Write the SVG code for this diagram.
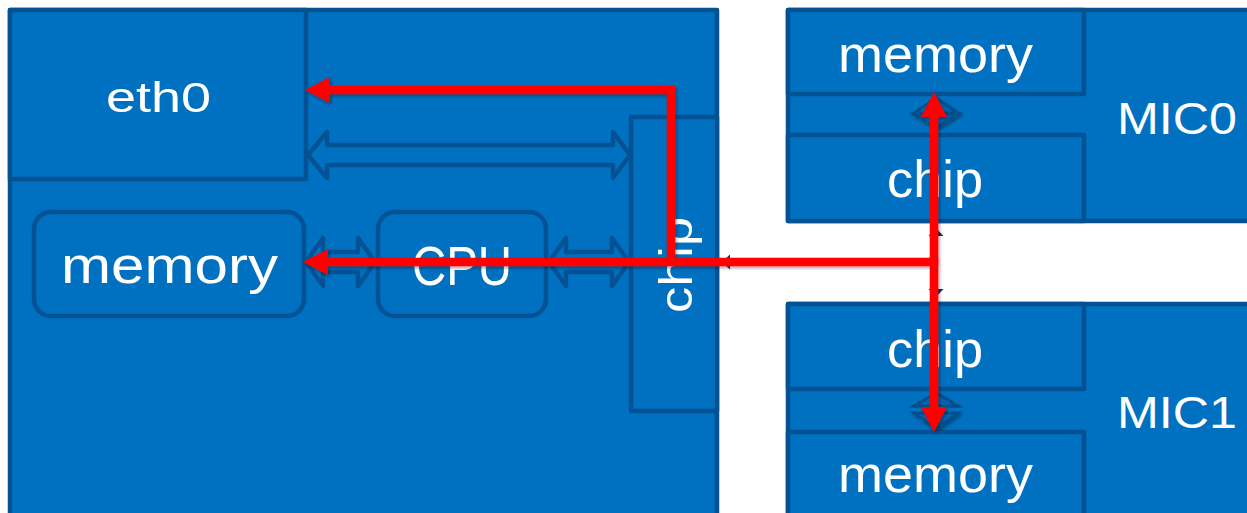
<svg xmlns="http://www.w3.org/2000/svg" width="1247" height="513" viewBox="0 0 1247 513">
<style>
.box{fill:#0070C0;stroke:#045294;stroke-width:4.5;stroke-linejoin:round}
.hollow{fill:#0070C0;stroke:#045294;stroke-width:4.5;stroke-linejoin:round}
.lbl{font-family:"Liberation Sans",Arial,sans-serif;fill:#FFFFFF}
.red{fill:none;stroke:#FF0000;stroke-width:8.5;stroke-linejoin:miter}
.navy{fill:none;stroke:#16365F;stroke-width:3}
.small{fill:#0566B3;stroke:#03508C;stroke-width:3;stroke-linejoin:miter}
</style>
<defs>
<filter id="sh" x="-10%" y="-10%" width="120%" height="120%">
<feDropShadow dx="1.5" dy="2" stdDeviation="1.5" flood-color="#000000" flood-opacity="0.35"/>
</filter>
<marker id="rh" markerUnits="userSpaceOnUse" markerWidth="26" markerHeight="28" refX="0" refY="13" orient="auto" overflow="visible">
<path d="M0,0 L25,13 L0,26 Z" fill="#FF0000"/>
</marker>
<marker id="nh" markerUnits="userSpaceOnUse" markerWidth="10" markerHeight="16" refX="0" refY="7.5" orient="auto" overflow="visible">
<path d="M0,0 L8,7.5 L0,15 Z" fill="#16365F"/>
</marker>
</defs>

<g id="host">
<rect class="box" x="10" y="10" width="707" height="520"/>
</g>
<g id="eth0">
<rect class="box" x="10" y="10" width="296" height="169"/>
<text class="lbl" x="106" y="112" font-size="43" textLength="105" lengthAdjust="spacingAndGlyphs">eth0</text>
</g>
<g id="chip-host">
<rect class="box" x="631" y="117" width="86" height="294"/>
<text class="lbl" transform="translate(692,313) rotate(-90)" font-size="46" textLength="96" lengthAdjust="spacingAndGlyphs">chip</text>
</g>
<g id="memory-host">
<rect class="box" x="34" y="212" width="270" height="104" rx="17" ry="17"/>
<text class="lbl" x="61" y="283" font-size="52" textLength="217" lengthAdjust="spacingAndGlyphs">memory</text>
</g>
<g id="cpu">
<rect class="box" x="378" y="212" width="168" height="104" rx="17" ry="17"/>
<text class="lbl" x="412" y="285" font-size="55" textLength="100" lengthAdjust="spacingAndGlyphs">CPU</text>
</g>

<g id="mic0">
<rect class="box" x="788" y="10" width="480" height="211"/>
<text class="lbl" x="1117" y="134" font-size="44" textLength="120" lengthAdjust="spacingAndGlyphs">MIC0</text>
</g>
<g id="mic0-memory">
<rect class="box" x="788" y="10" width="296" height="84"/>
<text class="lbl" x="838" y="72" font-size="52" textLength="195" lengthAdjust="spacingAndGlyphs">memory</text>
</g>
<g id="mic0-chip">
<rect class="box" x="788" y="135" width="296" height="86"/>
<text class="lbl" x="887" y="197" font-size="52" textLength="96" lengthAdjust="spacingAndGlyphs">chip</text>
</g>

<g id="mic1">
<rect class="box" x="788" y="304" width="480" height="230"/>
<text class="lbl" x="1117" y="428" font-size="44" textLength="120" lengthAdjust="spacingAndGlyphs">MIC1</text>
</g>
<g id="mic1-chip">
<rect class="box" x="788" y="304" width="296" height="85"/>
<text class="lbl" x="887" y="367" font-size="52" textLength="96" lengthAdjust="spacingAndGlyphs">chip</text>
</g>
<g id="mic1-memory">
<rect class="box" x="788" y="432" width="296" height="100"/>
<text class="lbl" x="838" y="492" font-size="52" textLength="195" lengthAdjust="spacingAndGlyphs">memory</text>
</g>

<g id="connectors">
<polygon class="hollow" points="308,155 327,132 327,145 613,145 613,132 630,155 613,178 613,165 327,165 327,178"/>
<polygon class="hollow" points="306,262 323,238 323,252 358,252 358,238 375,262 358,286 358,272 323,272 323,286"/>
<polygon class="hollow" points="549,262 566,238 566,252 612,252 612,238 629,262 612,286 612,272 566,272 566,286"/>

<polygon class="small" filter="url(#sh)" points="936,98 914,113 958,113"/>
<polygon class="small" filter="url(#sh)" points="914,114 958,114 936,128"/>
<polygon class="small" filter="url(#sh)" points="936,393 914,406 958,406"/>
<polygon class="small" filter="url(#sh)" points="914,413 958,413 936,429"/>

<path class="navy" d="M934,262 L730,262" marker-end="url(#nh)"/>
<path class="navy" d="M936,262 L936,236" marker-end="url(#nh)"/>
<path class="navy" d="M936,262 L936,289" marker-end="url(#nh)"/>

<g filter="url(#sh)">
<path class="red" d="M938,262 L328,262" marker-end="url(#rh)"/>
<path class="red" d="M671,262 L671,90 L330,90" marker-end="url(#rh)"/>
<path class="red" d="M934,266 L934,117" marker-end="url(#rh)"/>
<path class="red" d="M934,258 L934,407" marker-end="url(#rh)"/>
</g>
</g>
</svg>
